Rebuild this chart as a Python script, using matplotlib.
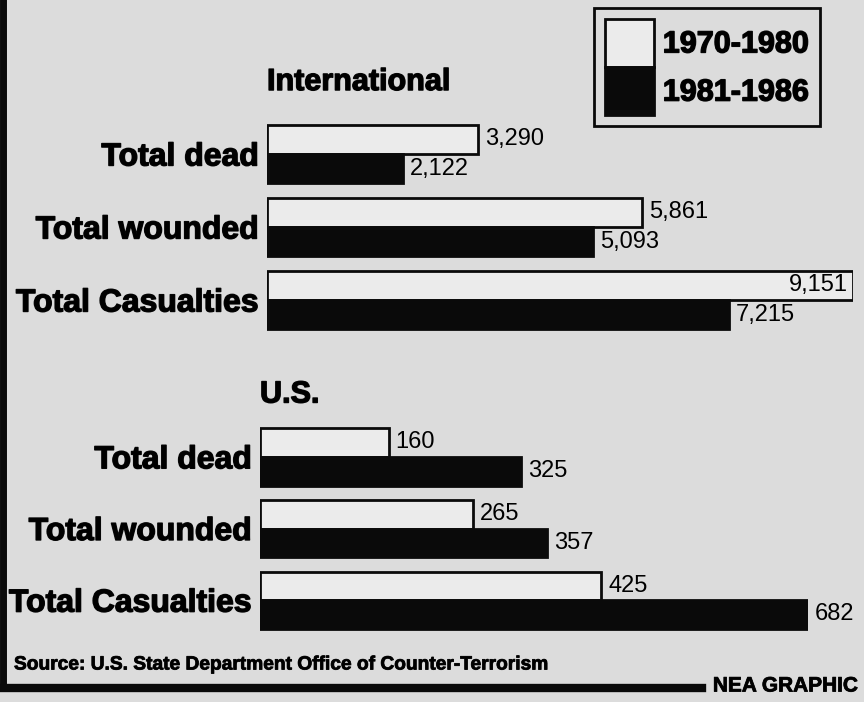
import matplotlib.pyplot as plt
import matplotlib.patheffects as pe
from matplotlib.patches import Patch
from matplotlib.lines import Line2D

# Terrorism casualties, NEA graphic
categories = ["Total dead", "Total wounded", "Total Casualties"]
periods = ["1970-1980", "1981-1986"]

intl_1970 = [3290, 5861, 9151]
intl_1981 = [2122, 5093, 7215]
us_1970 = [160, 265, 425]
us_1981 = [325, 357, 682]

source = "Source: U.S. State Department Office of Counter-Terrorism"
credit = "NEA GRAPHIC"

paper = "#dcdcdc"
light = "#ebebeb"
dark = "#0a0a0a"
plt.rcParams['font.family'] = ['Liberation Sans', 'DejaVu Sans']
heavy = [pe.withStroke(linewidth=1.0, foreground=dark)]

fig = plt.figure(figsize=(8.64, 7.02), dpi=100, facecolor=paper)


def section(rect, old, new, title, title_y, xmax, label_inside=False):
    ax = fig.add_axes(rect)
    ax.set_facecolor("none")
    ypos = list(range(len(categories)))
    ax.barh([y - 0.2 for y in ypos], old, height=0.4, color=light,
            edgecolor=dark, linewidth=2)
    ax.barh([y + 0.2 for y in ypos], new, height=0.4, color=dark,
            edgecolor=dark, linewidth=2)
    ax.set_xlim(0, xmax)
    ax.set_ylim(len(categories) - 0.5, -0.5)
    ax.set_yticks(ypos)
    ax.set_yticklabels(categories, fontsize=23, fontweight="bold")
    for t in ax.get_yticklabels():
        t.set_path_effects(heavy)
    ax.tick_params(axis="y", length=0, pad=6)
    ax.set_xticks([])
    for s in ax.spines.values():
        s.set_visible(False)
    # value labels; a bar reaching the right edge has its label inside
    for vals, off in [(old, -0.2), (new, 0.2)]:
        for y, v in zip(ypos, vals):
            txt = "{:,}".format(v)
            if label_inside and v >= xmax:
                ax.annotate(txt, (v, y + off), xytext=(-4, 0), textcoords="offset points",
                            ha="right", va="center", fontsize=17)
            else:
                ax.annotate(txt, (v, y + off), xytext=(5, 0), textcoords="offset points",
                            ha="left", va="center", fontsize=17, annotation_clip=False)
    ax.text(0, title_y, title, fontsize=22, fontweight="bold", ha="left", va="bottom",
            path_effects=heavy)
    return ax


section([267 / 864, 1 - 336.5 / 702, 586 / 864, 219 / 702],
        intl_1970, intl_1981, "International", -0.78, 9151, label_inside=True)
section([260 / 864, 1 - 636 / 702, 548 / 864, 215 / 702],
        us_1970, us_1981, "U.S.", -0.66, 682)

# legend: two swatches stacked
handles = [Patch(facecolor=light, edgecolor=dark, linewidth=2),
           Patch(facecolor=dark, edgecolor=dark, linewidth=2)]
leg = fig.legend(handles, periods, loc="upper left",
                 bbox_to_anchor=(594 / 864, 1 - 8 / 702),
                 prop={"size": 22, "weight": "bold"},
                 handlelength=1.6, handleheight=2.05, labelspacing=0,
                 handletextpad=0.3, borderpad=0.35, borderaxespad=0,
                 fancybox=False, framealpha=1, facecolor=paper, edgecolor=dark)
leg.get_frame().set_linewidth(2)
for t in leg.get_texts():
    t.set_path_effects(heavy)

# border lines of the graphic
fig.add_artist(Line2D([3 / 864, 3 / 864], [1, 1 - 688 / 702], color=dark, lw=5))
fig.add_artist(Line2D([0, 702 / 864], [1 - 688 / 702, 1 - 688 / 702], color=dark, lw=6))

fig.text(14 / 864, 1 - 665 / 702, source, fontsize=13.8, fontweight="bold", va="center",
         path_effects=[pe.withStroke(linewidth=0.6, foreground=dark)])
fig.text(858 / 864, 1 - 686 / 702, credit, fontsize=15, fontweight="bold",
         ha="right", va="center", path_effects=[pe.withStroke(linewidth=0.6, foreground=dark)])

fig.savefig("out.png", dpi=100, facecolor=paper)
